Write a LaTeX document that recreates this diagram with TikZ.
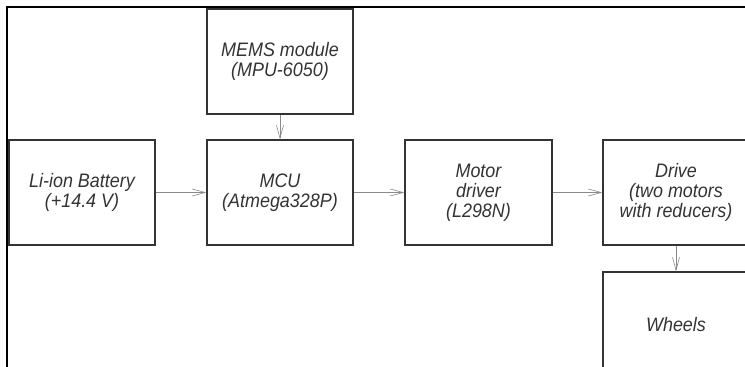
\documentclass[tikz,border=0pt]{standalone}
\usepackage{fontspec}
\setmainfont{Liberation Sans}[ItalicFont=* Italic, ItalicFeatures={FakeStretch=0.92}]
\usetikzlibrary{arrows.meta}
\definecolor{boxline}{HTML}{333333}
\definecolor{arrline}{HTML}{8A8A8A}
\begin{document}
\begin{tikzpicture}[x=1pt,y=-1pt,
  blk/.style={draw=boxline, line width=1.2pt, rectangle, minimum width=146pt, minimum height=105pt,
    inner sep=0pt, align=center, font=\fontsize{19.5}{20}\selectfont\itshape, text=black!80},
  conn/.style={draw=arrline, line width=0.6pt, -{Straight Barb[length=13pt,width=7pt,line width=0.6pt]}},
  frame/.style={draw=black, line width=2pt}]
\useasboundingbox (0,0) rectangle (745,367);
\draw[frame] (7,367) -- (7,7) -- (745,7);
\node[blk] (mems) at (280,61.5) {MEMS module\\(MPU-6050)};
\node[blk] (bat) at (82,192.5) {Li-ion Battery\\(+14.4 V)};
\node[blk] (mcu) at (280,192.5) {MCU\\(Atmega328P)};
\node[blk, minimum width=147pt] (drv) at (478.5,192.5) {Motor\\driver\\(L298N)};
\node[blk] (drive) at (676,192.5) {Drive\\(two motors\\with reducers)};
\node[blk] (wheels) at (676,324.5) {Wheels};
\draw[conn] (mems) -- (mcu);
\draw[conn] (bat) -- (mcu);
\draw[conn] (mcu) -- (drv);
\draw[conn] (drv) -- (drive);
\draw[conn] (drive) -- (wheels);
\end{tikzpicture}
\end{document}
